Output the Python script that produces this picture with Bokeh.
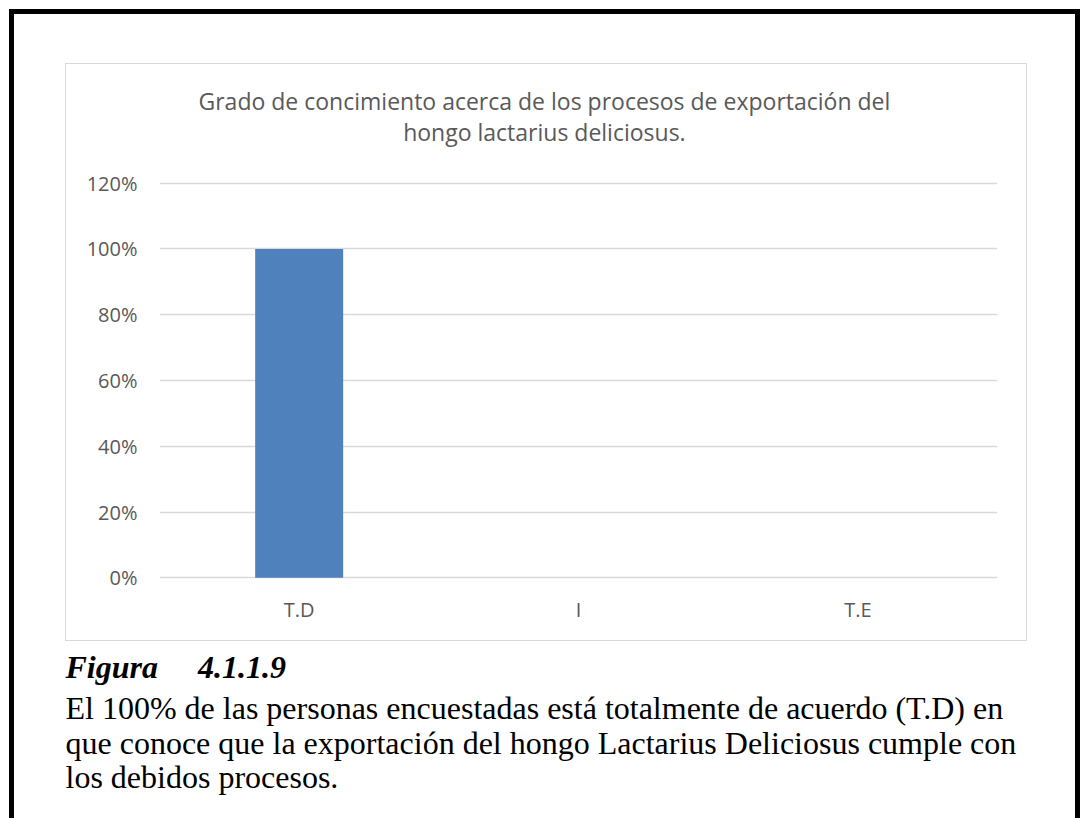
from bokeh.plotting import figure
from bokeh.models import (Range1d, FixedTicker, NumeralTickFormatter, Title,
                          ColumnDataSource, InlineStyleSheet)
from bokeh.embed import file_html
from bokeh.resources import INLINE

# ---- data ----
categories = ["T.D", "I", "T.E"]
values = [1.0, 0.0, 0.0]
y_ticks = [0.0, 0.2, 0.4, 0.6, 0.8, 1.0, 1.2]
title_lines = ["Grado de concimiento acerca de los procesos de exportación del",
               "hongo lactarius deliciosus."]
caption_head = "Figura\u00a0\u00a0\u00a0\u00a0\u00a04.1.1.9"
caption_lines = ["El 100% de las personas encuestadas está totalmente de acuerdo (T.D) en",
                 "que conoce que la exportación del hongo Lactarius Deliciosus cumple con",
                 "los debidos procesos."]

GRAY = "#595959"
GRID = "#d9d9d9"
BAR = "#4f81bd"

css = """
:host { position: relative; overflow: hidden; }
:host::before { content: ""; position: absolute; left: 9px; top: 9px;
  width: 1071px; height: 900px; border: 5px solid #000; box-sizing: border-box;
  pointer-events: none; z-index: 100; }
:host::after { content: ""; position: absolute; left: 65px; top: 63px;
  width: 962px; height: 578px; border: 1.5px solid #d9d9d9; box-sizing: border-box;
  pointer-events: none; z-index: 100; }
"""

p = figure(x_range=categories, y_range=Range1d(-0.005, 1.205),
           frame_width=838, frame_height=398,
           min_border_left=159, min_border_right=88,
           min_border_top=181, min_border_bottom=239,
           output_backend="svg", toolbar_location=None,
           stylesheets=[InlineStyleSheet(css=css)])
p.outline_line_color = None
p.background_fill_color = "white"
p.border_fill_color = "white"

src = ColumnDataSource(dict(cat=categories, val=values))
p.vbar(x="cat", top="val", bottom=0, width=0.315, source=src,
       fill_color=BAR, line_color=None)

p.xgrid.grid_line_color = None
p.ygrid.grid_line_color = GRID
p.ygrid.grid_line_width = 1.3

p.yaxis.ticker = FixedTicker(ticks=y_ticks)
p.yaxis.formatter = NumeralTickFormatter(format="0%")
for ax in (p.xaxis[0], p.yaxis[0]):
    ax.axis_line_color = None
    ax.major_tick_line_color = None
    ax.minor_tick_line_color = None
    ax.major_tick_out = 0
    ax.major_tick_in = 0
    ax.major_label_text_color = GRAY
    ax.major_label_text_font = "Open Sans"
    ax.major_label_text_font_size = "20px"
p.yaxis.major_label_standoff = 22
p.xaxis.major_label_standoff = 16

# chart title: one two-line block, each line centred within the block
p.add_layout(Title(text="\n".join(title_lines), align="left", offset=39, standoff=66,
                   text_align="center", text_line_height=0.98,
                   text_font="Open Sans", text_font_size="23px",
                   text_font_style="normal", text_color=GRAY), "above")

# caption below the chart
p.add_layout(Title(text=caption_head, align="left", offset=-94, standoff=42,
                   text_font="Liberation Serif", text_font_size="32px",
                   text_font_style="bold italic", text_color="black"), "below")
p.add_layout(Title(text="\n".join(caption_lines), align="left", offset=-94, standoff=-36,
                   text_line_height=0.97,
                   text_font="Liberation Serif", text_font_size="32px",
                   text_font_style="normal", text_color="black"), "below")

open("out.html", "w").write(file_html(p, INLINE))
